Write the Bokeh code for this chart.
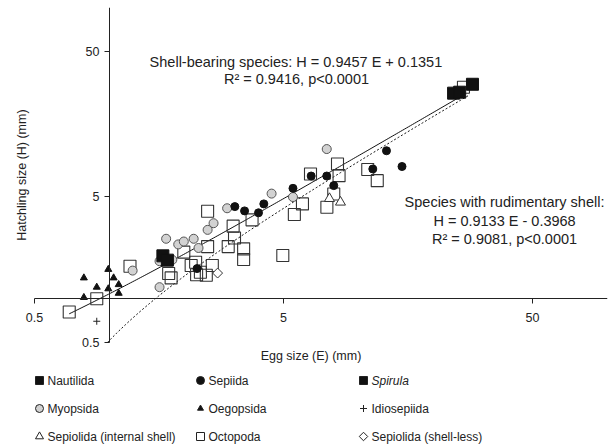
import numpy as np
from bokeh.plotting import figure
from bokeh.models import LogAxis, FixedTicker, Label, ColumnDataSource, Range1d, CustomJSTickFormatter
from bokeh.layouts import column
from bokeh.core.properties import value, field
from bokeh.embed import file_html
from bokeh.resources import INLINE

FONT = "Liberation Sans"
INK = "#222222"

# ---- data: egg size E (mm), hatchling size H (mm) ----
nautilida_E = [24.1, 25.5, 28.7]
nautilida_H = [25.8, 26.2, 29.7]
spirula_E = [1.64, 1.71]
spirula_H = [1.97, 1.84]
sepiida_E = [3.19, 3.49, 3.97, 4.17, 5.46, 6.46, 7.46, 7.96, 12.96, 11.42, 14.96, 2.25]
sepiida_H = [4.29, 4.01, 3.89, 4.48, 5.73, 6.96, 6.96, 5.98, 10.38, 7.78, 8.09, 1.61]
myopsida_E = [2.97, 2.62, 2.48, 1.69, 1.89, 1.99, 2.18, 2.28, 1.59, 1.79, 1.24, 1.59, 4.48, 5.46, 7.46]
myopsida_H = [4.18, 3.30, 2.97, 2.58, 2.36, 2.47, 2.58, 2.23, 1.81, 1.85, 1.56, 1.20, 5.27, 4.99, 10.66]
oegopsida_E = [0.79, 0.89, 0.99, 1.04, 0.99, 1.09, 1.09, 0.79]
oegopsida_H = [1.39, 1.20, 1.59, 1.39, 1.17, 1.25, 1.09, 1.02]
idiosepiida_E = [0.89]
idiosepiida_H = [0.70]
sepiolida_int_E = [7.65, 8.47]
sepiolida_int_H = [4.87, 4.60]
sepiolida_less_E = [2.72]
sepiolida_less_H = [1.50]
octopoda_E = [0.69, 0.89, 1.21, 1.73, 1.77, 1.99, 2.13, 2.22, 2.32, 2.24, 2.45, 2.59, 2.48, 2.48, 3.00,
              3.14, 3.18, 3.46, 3.46, 3.74, 4.97, 5.53, 5.96, 6.42, 8.24, 8.36, 7.96, 7.47, 10.9, 11.9, 26.4]
octopoda_H = [0.81, 1.00, 1.67, 1.49, 1.39, 2.09, 1.69, 1.78, 1.52, 1.46, 1.45, 1.69, 2.28, 3.99, 2.28,
              3.15, 2.61, 2.20, 1.86, 3.48, 1.98, 3.79, 4.48, 7.19, 8.41, 7.00, 5.24, 4.25, 7.71, 6.47, 28.3]

# regression equations (H = a*E + b) and the E span over which each is drawn
shell_fit = [0.9457, 0.1351]
shell_span = [0.69, 26.0]
rud_fit = [0.9133, -0.3968]
rud_span = [0.982, 28.0]

axis_ticks = [0.5, 5, 50]
axis_bounds = (0.5, 100)

legend_labels = ["Nautilida", "Sepiida", "Spirula",
                 "Myopsida", "Oegopsida", "Idiosepiida",
                 "Sepiolida (internal shell)", "Octopoda", "Sepiolida (shell-less)"]

# ---- main plot ----
p = figure(width=616, height=365, x_axis_type="log", y_axis_type="log",
           x_range=Range1d(0.416, 100), y_range=Range1d(0.455, 100),
           x_axis_location=None, y_axis_location=None,
           toolbar_location=None, output_backend="svg",
           min_border_left=14, min_border_right=9, min_border_top=7, min_border_bottom=16)
p.outline_line_color = None
p.grid.visible = False
p.background_fill_color = "white"

fmt = CustomJSTickFormatter(code="return String(tick);")

def crossing_axis(standoff):
    return LogAxis(fixed_location=1, bounds=axis_bounds,
                   ticker=FixedTicker(ticks=axis_ticks), formatter=fmt,
                   axis_line_color=INK, axis_line_width=1,
                   major_tick_line_color=INK, major_tick_in=0, major_tick_out=5,
                   minor_tick_line_color=None,
                   major_label_standoff=standoff,
                   major_label_text_font=FONT, major_label_text_font_size="12.5px",
                   major_label_text_color=INK)

p.add_layout(crossing_axis(9), "below")
p.add_layout(crossing_axis(5), "left")

# x-axis title (in the bottom panel)
p.add_layout(LogAxis(ticker=FixedTicker(ticks=[]), axis_label="Egg size (E) (mm)",
                     axis_line_color=None, major_tick_line_color=None, minor_tick_line_color=None,
                     major_tick_out=0, major_tick_in=0, major_label_standoff=0,
                     major_label_text_font_size="0px",
                     axis_label_standoff=0, axis_label_text_font=FONT,
                     axis_label_text_font_size="12.5px", axis_label_text_font_style="normal",
                     axis_label_text_color=INK), "below")

# y-axis title
p.add_layout(Label(x=0.447, y=7.07, text="Hatchling size (H) (mm)", angle=np.pi / 2,
                   text_align="center", text_baseline="middle",
                   text_font=FONT, text_font_size="12.5px", text_color=INK))

# regression lines (linear equations drawn on log axes)
e1 = np.geomspace(shell_span[0], shell_span[1], 200)
p.line(e1, shell_fit[0] * e1 + shell_fit[1], line_color="#111111", line_width=1)
e2 = np.geomspace(rud_span[0], rud_span[1], 200)
p.line(e2, rud_fit[0] * e2 + rud_fit[1], line_color="#111111", line_width=1, line_dash="2 2")

# points
p.scatter(octopoda_E, octopoda_H, marker="square", size=12, fill_color=None,
          line_color="#333333", line_width=1.1)
p.scatter(sepiolida_less_E, sepiolida_less_H, marker="square", angle=np.pi / 4, size=7,
          fill_color="white", line_color="#333333", line_width=1)
p.scatter(myopsida_E, myopsida_H, marker="circle", size=9, fill_color="#d2d2d2",
          line_color="#555555", line_width=1)
p.scatter(sepiida_E, sepiida_H, marker="circle", size=8, fill_color="#111111", line_color="#111111")
p.scatter(oegopsida_E, oegopsida_H, marker="triangle", size=7, fill_color="#111111", line_color="#111111")
p.scatter(idiosepiida_E, idiosepiida_H, marker="cross", size=7, line_color="#222222", line_width=1)
p.scatter(sepiolida_int_E, sepiolida_int_H, marker="triangle", size=10, fill_color="white",
          line_color="#333333", line_width=1)
p.scatter(spirula_E, spirula_H, marker="square", size=12, fill_color="#111111", line_color="#111111")
p.scatter(nautilida_E, nautilida_H, marker="square", size=12, fill_color="#111111", line_color="#111111")

# equation annotations
def note(x, y, text):
    p.add_layout(Label(x=x, y=y, text=text, text_align="center", text_baseline="middle",
                       text_font=FONT, text_font_size="14.5px", text_color=INK))

note(5.61, 42.1, "Shell-bearing species: H = 0.9457 E + 0.1351")
note(5.64, 32.2, "R\u00b2 = 0.9416, p<0.0001")
note(38.6, 4.62, "Species with rudimentary shell:")
note(38.6, 3.42, "H = 0.9133 E - 0.3968")
note(38.6, 2.58, "R\u00b2 = 0.9081, p<0.0001")

# ---- legend panel (frame matches the main frame: 14..607 px) ----
leg = figure(width=616, height=83, x_range=Range1d(14, 607), y_range=Range1d(83, 0),
             x_axis_location=None, y_axis_location=None,
             toolbar_location=None, output_backend="svg",
             min_border_left=14, min_border_right=9, min_border_top=0, min_border_bottom=0)
leg.outline_line_color = None
leg.grid.visible = False

col_x = [39, 200, 363]
row_y = [15, 43, 71]
markers = ["square", "circle", "square", "circle", "triangle", "cross", "triangle", "square", "square"]
fills = ["#111111", "#111111", "#111111", "#d2d2d2", "#111111", "white", "white", "white", "white"]
sizes = [8, 8, 8, 8, 6, 7, 8, 8, 6]
angles = [0, 0, 0, 0, 0, 0, 0, 0, np.pi / 4]
styles = ["italic" if lab == "Spirula" else "normal" for lab in legend_labels]
mx = [col_x[i % 3] for i in range(len(legend_labels))]
my = [row_y[i // 3] for i in range(len(legend_labels))]
src = ColumnDataSource(dict(x=mx, y=my, tx=[v + 8 for v in mx], label=legend_labels,
                            marker=markers, fill=fills, size=sizes, angle=angles, style=styles))
leg.scatter("x", "y", source=src, marker="marker", size="size", angle="angle",
            fill_color="fill", line_color="#222222", line_width=1)
leg.text("tx", "y", text="label", source=src, text_font=value(FONT), text_font_size=value("12px"),
         text_baseline="middle", text_align="left", text_color=INK, text_font_style=field("style"))

layout = column(p, leg, spacing=0)
open("out.html", "w").write(file_html(layout, INLINE))
